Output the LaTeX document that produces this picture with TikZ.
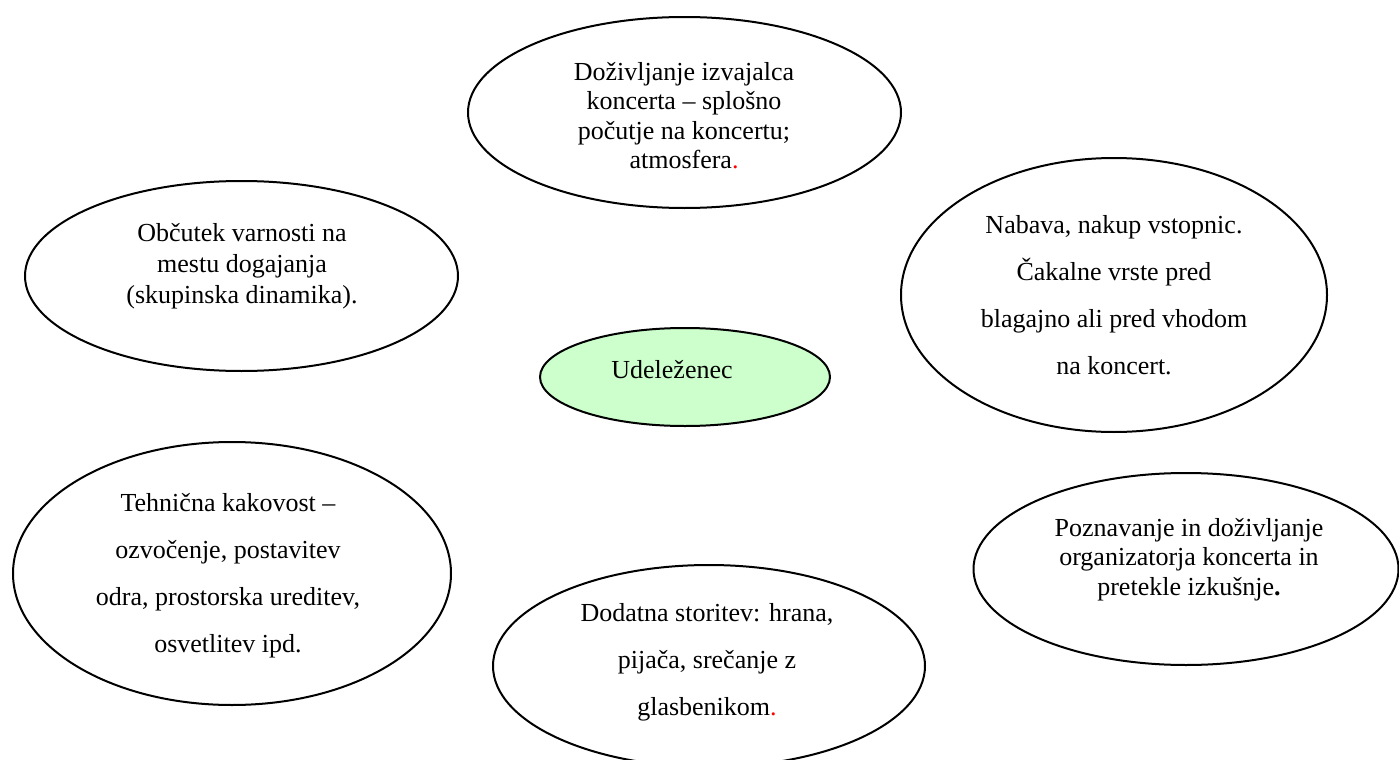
\documentclass[tikz,border=0pt]{standalone}
\usepackage{fontspec}
\setmainfont{Liberation Serif}
\usetikzlibrary{shapes.geometric}
\definecolor{centrefill}{HTML}{CCFFCC}
\tikzset{
  oval/.style={draw=black, line width=1pt, ellipse, inner sep=0pt},
  txt/.style={align=center, inner sep=0pt},
  tight/.style={font=\fontsize{13}{14.75}\selectfont},
  medium/.style={font=\fontsize{13}{15.5}\selectfont},
  loose/.style={font=\fontsize{13}{23.5}\selectfont},
}
\begin{document}
\begin{tikzpicture}[x=0.5pt,y=-0.5pt]
\useasboundingbox (0,0) rectangle (1399,760);
% ellipses (size in pt = radius in px)
\node[oval, minimum width=216.5pt, minimum height=95.5pt] (e1) at (684.5,112.5) {};
\node[oval, minimum width=216.5pt, minimum height=95pt] (e2) at (241.5,276) {};
\node[oval, minimum width=213pt, minimum height=137pt] (e3) at (1114,295) {};
\node[oval, fill=centrefill, minimum width=145pt, minimum height=49pt] (e0) at (685,377) {};
\node[oval, minimum width=219pt, minimum height=131.5pt] (e4) at (232,573.5) {};
\node[oval, minimum width=216pt, minimum height=101pt] (e5) at (709,666) {};
\node[oval, minimum width=212.5pt, minimum height=96pt] (e6) at (1186,569) {};
% texts
\node[txt, tight] (t1) at (684,115.5) {Doživljanje izvajalca\\koncerta – splošno\\počutje na koncertu;\\atmosfera{\color{red}.}};
\node[txt, medium] (t2) at (242,266) {Občutek varnosti na\\mestu dogajanja\\(skupinska dinamika).};
\node[txt, loose] (t3) at (1114,295) {Nabava, nakup vstopnic.\\Čakalne vrste pred\\blagajno ali pred vhodom\\na koncert.};
\node[txt, tight] (t0) at (672,370) {Udeleženec};
\node[txt, loose] (t4) at (228,576) {Tehnična kakovost –\\ozvočenje, postavitev\\odra, prostorska ureditev,\\osvetlitev ipd.};
\node[txt, loose] (t5) at (707,662.5) {Dodatna storitev: hrana,\\pijača, srečanje z\\glasbenikom{\color{red}.}};
\node[txt, tight] (t6) at (1189,559.5) {Poznavanje in doživljanje\\organizatorja koncerta in\\pretekle izkušnje\textbf{.}};
\end{tikzpicture}
\end{document}
